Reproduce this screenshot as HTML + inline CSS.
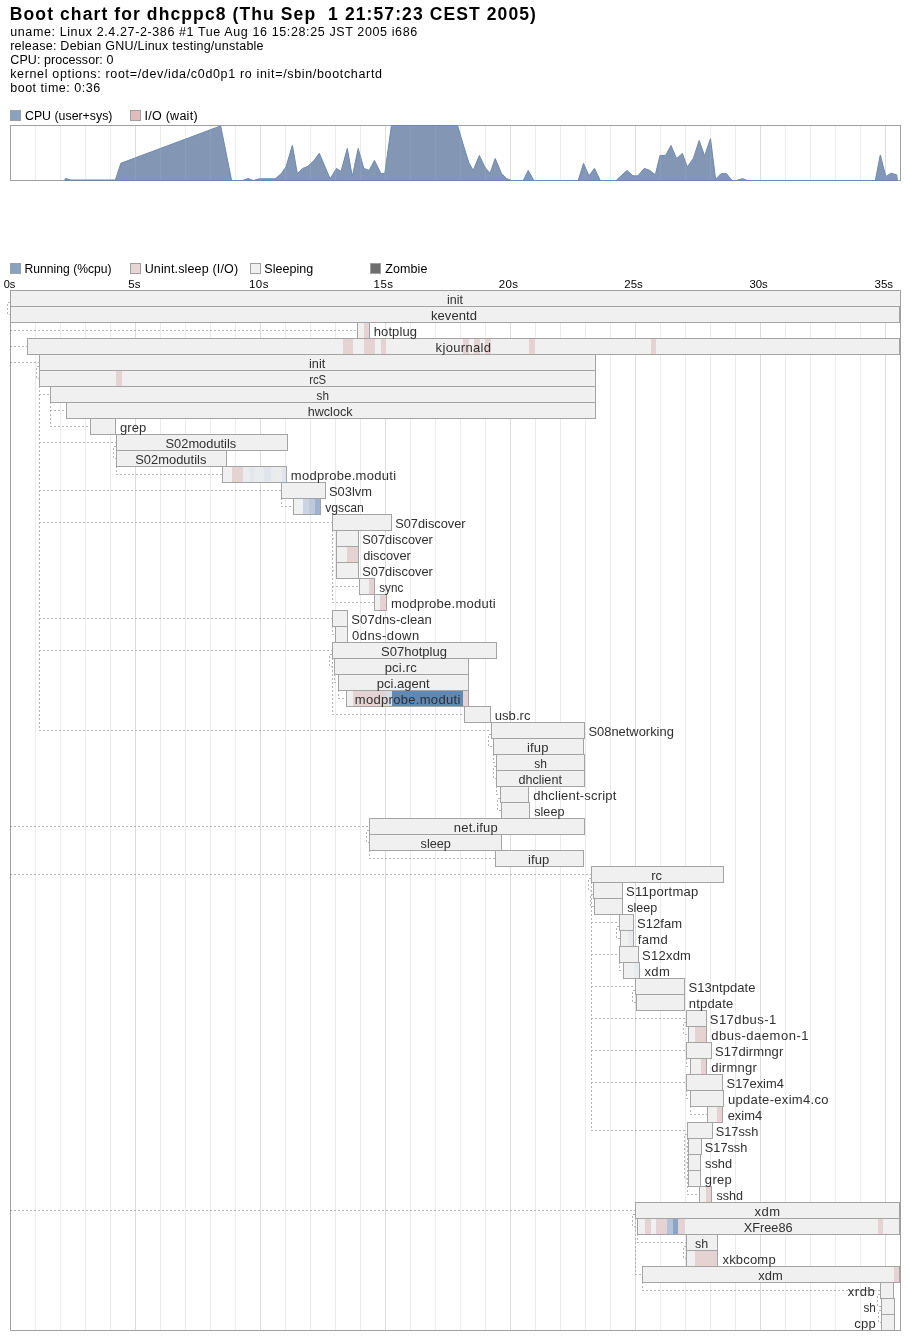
<!DOCTYPE html>
<html><head><meta charset="utf-8"><title>Boot chart</title>
<style>html,body{margin:0;padding:0;background:#fff;width:910px;height:1340px;overflow:hidden}svg{display:block;will-change:transform}text{shape-rendering:auto}</style>
</head><body>
<svg width="910" height="1340" viewBox="0 0 910 1340" font-family="'Liberation Sans', sans-serif" shape-rendering="crispEdges">
<text x="9.83" y="20" font-size="17.5" font-weight="bold" textLength="526.04" lengthAdjust="spacing">Boot chart for dhcppc8 (Thu Sep  1 21:57:23 CEST 2005)</text>
<text x="10.19" y="36" font-size="12.5" textLength="406.96" lengthAdjust="spacing">uname: Linux 2.4.27-2-386 #1 Tue Aug 16 15:28:25 JST 2005 i686</text>
<text x="10.17" y="50" font-size="12.5" textLength="253.39" lengthAdjust="spacing">release: Debian GNU/Linux testing/unstable</text>
<text x="10.37" y="64" font-size="12.5" textLength="103.02" lengthAdjust="spacing">CPU: processor: 0</text>
<text x="10.16" y="78" font-size="12.5" textLength="371.85" lengthAdjust="spacing">kernel options: root=/dev/ida/c0d0p1 ro init=/sbin/bootchartd</text>
<text x="10.19" y="92" font-size="12.5" textLength="90.05" lengthAdjust="spacing">boot time: 0:36</text>
<rect x="10.5" y="110.5" width="10" height="10" fill="#87a2c3" stroke="#a0a0a0"/>
<text x="24.97" y="120" font-size="12.5" textLength="87.49" lengthAdjust="spacingAndGlyphs">CPU (user+sys)</text>
<rect x="130.5" y="110.5" width="10" height="10" fill="#e0bcbc" stroke="#a0a0a0"/>
<text x="144.45" y="120" font-size="12.5" textLength="53.13" lengthAdjust="spacing">I/O (wait)</text>
<line x1="35.5" y1="125" x2="35.5" y2="180" stroke="#ebebeb"/>
<line x1="60.5" y1="125" x2="60.5" y2="180" stroke="#ebebeb"/>
<line x1="85.5" y1="125" x2="85.5" y2="180" stroke="#ebebeb"/>
<line x1="110.5" y1="125" x2="110.5" y2="180" stroke="#ebebeb"/>
<line x1="135.5" y1="125" x2="135.5" y2="180" stroke="#dcdcdc"/>
<line x1="160.5" y1="125" x2="160.5" y2="180" stroke="#ebebeb"/>
<line x1="185.5" y1="125" x2="185.5" y2="180" stroke="#ebebeb"/>
<line x1="210.5" y1="125" x2="210.5" y2="180" stroke="#ebebeb"/>
<line x1="235.5" y1="125" x2="235.5" y2="180" stroke="#ebebeb"/>
<line x1="260.5" y1="125" x2="260.5" y2="180" stroke="#dcdcdc"/>
<line x1="285.5" y1="125" x2="285.5" y2="180" stroke="#ebebeb"/>
<line x1="310.5" y1="125" x2="310.5" y2="180" stroke="#ebebeb"/>
<line x1="335.5" y1="125" x2="335.5" y2="180" stroke="#ebebeb"/>
<line x1="360.5" y1="125" x2="360.5" y2="180" stroke="#ebebeb"/>
<line x1="385.5" y1="125" x2="385.5" y2="180" stroke="#dcdcdc"/>
<line x1="410.5" y1="125" x2="410.5" y2="180" stroke="#ebebeb"/>
<line x1="435.5" y1="125" x2="435.5" y2="180" stroke="#ebebeb"/>
<line x1="460.5" y1="125" x2="460.5" y2="180" stroke="#ebebeb"/>
<line x1="485.5" y1="125" x2="485.5" y2="180" stroke="#ebebeb"/>
<line x1="510.5" y1="125" x2="510.5" y2="180" stroke="#dcdcdc"/>
<line x1="535.5" y1="125" x2="535.5" y2="180" stroke="#ebebeb"/>
<line x1="560.5" y1="125" x2="560.5" y2="180" stroke="#ebebeb"/>
<line x1="585.5" y1="125" x2="585.5" y2="180" stroke="#ebebeb"/>
<line x1="610.5" y1="125" x2="610.5" y2="180" stroke="#ebebeb"/>
<line x1="635.5" y1="125" x2="635.5" y2="180" stroke="#dcdcdc"/>
<line x1="660.5" y1="125" x2="660.5" y2="180" stroke="#ebebeb"/>
<line x1="685.5" y1="125" x2="685.5" y2="180" stroke="#ebebeb"/>
<line x1="710.5" y1="125" x2="710.5" y2="180" stroke="#ebebeb"/>
<line x1="735.5" y1="125" x2="735.5" y2="180" stroke="#ebebeb"/>
<line x1="760.5" y1="125" x2="760.5" y2="180" stroke="#dcdcdc"/>
<line x1="785.5" y1="125" x2="785.5" y2="180" stroke="#ebebeb"/>
<line x1="810.5" y1="125" x2="810.5" y2="180" stroke="#ebebeb"/>
<line x1="835.5" y1="125" x2="835.5" y2="180" stroke="#ebebeb"/>
<line x1="860.5" y1="125" x2="860.5" y2="180" stroke="#ebebeb"/>
<line x1="885.5" y1="125" x2="885.5" y2="180" stroke="#dcdcdc"/>
<rect x="10.5" y="125.5" width="890" height="55" fill="none" stroke="#a0a0a0"/>
<polygon points="64.8,180.50 65.3,178.48 70.8,180.00 115.4,180.00 120.9,163.24 220.7,125.90 231.6,180.50 242.5,180.50 248,178.58 253.4,180.50 259.3,178.78 275.2,178.78 281.1,173.84 286,166.88 292.4,145.28 297.3,173.44 302.8,168.39 307.8,166.37 313.7,160.82 319.3,153.25 330.1,178.78 336.5,168.39 341,171.42 347.3,148.51 352.3,176.46 358.2,148.51 363.8,168.39 369.1,170.41 374.4,160.42 380.9,173.44 384.8,173.44 391.4,125.50 457.6,125.50 463,143.87 468.9,162.84 473.2,170.41 479.4,155.47 484.7,166.88 490,173.44 495.2,158.50 501.5,173.44 506.5,178.48 511.4,180.50 523.3,180.50 528.2,170.41 533.8,180.50 578.2,180.50 583.5,163.44 589,175.86 594.4,168.39 600.3,180.50 616.1,180.50 627,170.41 633,175.86 637.9,175.86 644.2,168.39 649.8,170.41 655.3,174.85 660,155.47 665.6,155.47 671,145.48 676.5,158.50 682.4,153.45 687.3,166.88 693.3,158.50 699.2,140.54 704.6,155.88 710.5,138.52 715.6,179.39 721,173.64 726.5,173.64 732,180.50 736.4,180.50 742.5,178.68 747.4,180.50 875.3,180.50 880.3,154.97 885.8,176.46 891.3,173.13 896.8,174.95 897.3,180.50" fill="#8397b4" stroke="#6a88b2" stroke-width="1" stroke-linejoin="round" shape-rendering="geometricPrecision"/>
<line x1="35.5" y1="126" x2="35.5" y2="180" stroke="#ffffff" stroke-opacity="0.07"/>
<line x1="60.5" y1="126" x2="60.5" y2="180" stroke="#ffffff" stroke-opacity="0.07"/>
<line x1="85.5" y1="126" x2="85.5" y2="180" stroke="#ffffff" stroke-opacity="0.07"/>
<line x1="110.5" y1="126" x2="110.5" y2="180" stroke="#ffffff" stroke-opacity="0.07"/>
<line x1="135.5" y1="126" x2="135.5" y2="180" stroke="#ffffff" stroke-opacity="0.07"/>
<line x1="160.5" y1="126" x2="160.5" y2="180" stroke="#ffffff" stroke-opacity="0.07"/>
<line x1="185.5" y1="126" x2="185.5" y2="180" stroke="#ffffff" stroke-opacity="0.07"/>
<line x1="210.5" y1="126" x2="210.5" y2="180" stroke="#ffffff" stroke-opacity="0.07"/>
<line x1="235.5" y1="126" x2="235.5" y2="180" stroke="#ffffff" stroke-opacity="0.07"/>
<line x1="260.5" y1="126" x2="260.5" y2="180" stroke="#ffffff" stroke-opacity="0.07"/>
<line x1="285.5" y1="126" x2="285.5" y2="180" stroke="#ffffff" stroke-opacity="0.07"/>
<line x1="310.5" y1="126" x2="310.5" y2="180" stroke="#ffffff" stroke-opacity="0.07"/>
<line x1="335.5" y1="126" x2="335.5" y2="180" stroke="#ffffff" stroke-opacity="0.07"/>
<line x1="360.5" y1="126" x2="360.5" y2="180" stroke="#ffffff" stroke-opacity="0.07"/>
<line x1="385.5" y1="126" x2="385.5" y2="180" stroke="#ffffff" stroke-opacity="0.07"/>
<line x1="410.5" y1="126" x2="410.5" y2="180" stroke="#ffffff" stroke-opacity="0.07"/>
<line x1="435.5" y1="126" x2="435.5" y2="180" stroke="#ffffff" stroke-opacity="0.07"/>
<line x1="460.5" y1="126" x2="460.5" y2="180" stroke="#ffffff" stroke-opacity="0.07"/>
<line x1="485.5" y1="126" x2="485.5" y2="180" stroke="#ffffff" stroke-opacity="0.07"/>
<line x1="510.5" y1="126" x2="510.5" y2="180" stroke="#ffffff" stroke-opacity="0.07"/>
<line x1="535.5" y1="126" x2="535.5" y2="180" stroke="#ffffff" stroke-opacity="0.07"/>
<line x1="560.5" y1="126" x2="560.5" y2="180" stroke="#ffffff" stroke-opacity="0.07"/>
<line x1="585.5" y1="126" x2="585.5" y2="180" stroke="#ffffff" stroke-opacity="0.07"/>
<line x1="610.5" y1="126" x2="610.5" y2="180" stroke="#ffffff" stroke-opacity="0.07"/>
<line x1="635.5" y1="126" x2="635.5" y2="180" stroke="#ffffff" stroke-opacity="0.07"/>
<line x1="660.5" y1="126" x2="660.5" y2="180" stroke="#ffffff" stroke-opacity="0.07"/>
<line x1="685.5" y1="126" x2="685.5" y2="180" stroke="#ffffff" stroke-opacity="0.07"/>
<line x1="710.5" y1="126" x2="710.5" y2="180" stroke="#ffffff" stroke-opacity="0.07"/>
<line x1="735.5" y1="126" x2="735.5" y2="180" stroke="#ffffff" stroke-opacity="0.07"/>
<line x1="760.5" y1="126" x2="760.5" y2="180" stroke="#ffffff" stroke-opacity="0.07"/>
<line x1="785.5" y1="126" x2="785.5" y2="180" stroke="#ffffff" stroke-opacity="0.07"/>
<line x1="810.5" y1="126" x2="810.5" y2="180" stroke="#ffffff" stroke-opacity="0.07"/>
<line x1="835.5" y1="126" x2="835.5" y2="180" stroke="#ffffff" stroke-opacity="0.07"/>
<line x1="860.5" y1="126" x2="860.5" y2="180" stroke="#ffffff" stroke-opacity="0.07"/>
<line x1="885.5" y1="126" x2="885.5" y2="180" stroke="#ffffff" stroke-opacity="0.07"/>
<rect x="10.5" y="263.5" width="10" height="10" fill="#87a2c3" stroke="#a0a0a0"/>
<text x="24.60" y="273" font-size="12.5" textLength="87.05" lengthAdjust="spacingAndGlyphs">Running (%cpu)</text>
<rect x="130.5" y="263.5" width="10" height="10" fill="#e8d6d6" stroke="#a0a0a0"/>
<text x="144.64" y="273" font-size="12.5" textLength="93.44" lengthAdjust="spacing">Unint.sleep (I/O)</text>
<rect x="250.5" y="263.5" width="10" height="10" fill="#f0f0f0" stroke="#a0a0a0"/>
<text x="264.33" y="273" font-size="12.5" textLength="48.77" lengthAdjust="spacing">Sleeping</text>
<rect x="370.5" y="263.5" width="10" height="10" fill="#6e6e6e" stroke="#a0a0a0"/>
<text x="385.30" y="273" font-size="12.5" textLength="42.05" lengthAdjust="spacing">Zombie</text>
<text x="3.67" y="288" font-size="11.5" textLength="11.63" lengthAdjust="spacingAndGlyphs">0s</text>
<text x="128.24" y="288" font-size="11.5" textLength="12.18" lengthAdjust="spacing">5s</text>
<text x="248.92" y="288" font-size="11.5" textLength="19.59" lengthAdjust="spacing">10s</text>
<text x="373.42" y="288" font-size="11.5" textLength="19.69" lengthAdjust="spacing">15s</text>
<text x="498.72" y="288" font-size="11.5" textLength="19.39" lengthAdjust="spacing">20s</text>
<text x="624.32" y="288" font-size="11.5" textLength="18.49" lengthAdjust="spacingAndGlyphs">25s</text>
<text x="749.47" y="288" font-size="11.5" textLength="18.34" lengthAdjust="spacingAndGlyphs">30s</text>
<text x="874.46" y="288" font-size="11.5" textLength="18.65" lengthAdjust="spacing">35s</text>
<line x1="35.5" y1="290" x2="35.5" y2="1330" stroke="#ebebeb"/>
<line x1="60.5" y1="290" x2="60.5" y2="1330" stroke="#ebebeb"/>
<line x1="85.5" y1="290" x2="85.5" y2="1330" stroke="#ebebeb"/>
<line x1="110.5" y1="290" x2="110.5" y2="1330" stroke="#ebebeb"/>
<line x1="135.5" y1="290" x2="135.5" y2="1330" stroke="#dcdcdc"/>
<line x1="160.5" y1="290" x2="160.5" y2="1330" stroke="#ebebeb"/>
<line x1="185.5" y1="290" x2="185.5" y2="1330" stroke="#ebebeb"/>
<line x1="210.5" y1="290" x2="210.5" y2="1330" stroke="#ebebeb"/>
<line x1="235.5" y1="290" x2="235.5" y2="1330" stroke="#ebebeb"/>
<line x1="260.5" y1="290" x2="260.5" y2="1330" stroke="#dcdcdc"/>
<line x1="285.5" y1="290" x2="285.5" y2="1330" stroke="#ebebeb"/>
<line x1="310.5" y1="290" x2="310.5" y2="1330" stroke="#ebebeb"/>
<line x1="335.5" y1="290" x2="335.5" y2="1330" stroke="#ebebeb"/>
<line x1="360.5" y1="290" x2="360.5" y2="1330" stroke="#ebebeb"/>
<line x1="385.5" y1="290" x2="385.5" y2="1330" stroke="#dcdcdc"/>
<line x1="410.5" y1="290" x2="410.5" y2="1330" stroke="#ebebeb"/>
<line x1="435.5" y1="290" x2="435.5" y2="1330" stroke="#ebebeb"/>
<line x1="460.5" y1="290" x2="460.5" y2="1330" stroke="#ebebeb"/>
<line x1="485.5" y1="290" x2="485.5" y2="1330" stroke="#ebebeb"/>
<line x1="510.5" y1="290" x2="510.5" y2="1330" stroke="#dcdcdc"/>
<line x1="535.5" y1="290" x2="535.5" y2="1330" stroke="#ebebeb"/>
<line x1="560.5" y1="290" x2="560.5" y2="1330" stroke="#ebebeb"/>
<line x1="585.5" y1="290" x2="585.5" y2="1330" stroke="#ebebeb"/>
<line x1="610.5" y1="290" x2="610.5" y2="1330" stroke="#ebebeb"/>
<line x1="635.5" y1="290" x2="635.5" y2="1330" stroke="#dcdcdc"/>
<line x1="660.5" y1="290" x2="660.5" y2="1330" stroke="#ebebeb"/>
<line x1="685.5" y1="290" x2="685.5" y2="1330" stroke="#ebebeb"/>
<line x1="710.5" y1="290" x2="710.5" y2="1330" stroke="#ebebeb"/>
<line x1="735.5" y1="290" x2="735.5" y2="1330" stroke="#ebebeb"/>
<line x1="760.5" y1="290" x2="760.5" y2="1330" stroke="#dcdcdc"/>
<line x1="785.5" y1="290" x2="785.5" y2="1330" stroke="#ebebeb"/>
<line x1="810.5" y1="290" x2="810.5" y2="1330" stroke="#ebebeb"/>
<line x1="835.5" y1="290" x2="835.5" y2="1330" stroke="#ebebeb"/>
<line x1="860.5" y1="290" x2="860.5" y2="1330" stroke="#ebebeb"/>
<line x1="885.5" y1="290" x2="885.5" y2="1330" stroke="#dcdcdc"/>
<path d="M10,302.5H7.5V314.5H10M10.5,306V330.5H357M10.5,306V346.5H27M10.5,306V362.5H39M39,366.5H36.5V378.5H39M39.5,386V394.5H50M50.5,402V410.5H66M50.5,402V426.5H90M39.5,386V442.5H116M116,446.5H113.5V458.5H116M116.5,466V474.5H222M39.5,386V490.5H281M281.5,498V506.5H293M39.5,386V522.5H332M332.5,530V538.5H336M332.5,530V554.5H336M332.5,530V570.5H336M332.5,530V586.5H359M332.5,530V602.5H374M39.5,386V618.5H332M332.5,626V634.5H335M39.5,386V650.5H332M332,654.5H329.5V666.5H334M334.5,674V682.5H338M338.5,690V698.5H346M332.5,658V714.5H464M39.5,386V730.5H491M491,734.5H488.5V746.5H493M493.5,754V762.5H496M496,766.5H493.5V778.5H496M496.5,786V794.5H500M500,798.5H497.5V810.5H501M10.5,306V826.5H369M369,830.5H366.5V842.5H369M369.5,834V858.5H495M10.5,306V874.5H591M591,878.5H588.5V890.5H593M593,894.5H590.5V906.5H594M591.5,882V922.5H619M619,926.5H616.5V938.5H620M591.5,882V954.5H619M619.5,962V970.5H623M591.5,882V986.5H635M635,990.5H632.5V1002.5H636M591.5,882V1018.5H686M686,1022.5H683.5V1034.5H688M591.5,882V1050.5H686M686.5,1058V1066.5H690M591.5,882V1082.5H686M686.5,1090V1098.5H690M690.5,1106V1114.5H707M591.5,882V1130.5H687M687,1134.5H684.5V1146.5H688M687,1134.5H684.5V1162.5H688M687,1134.5H684.5V1178.5H688M687.5,1138V1194.5H699M10.5,306V1210.5H635M635,1214.5H632.5V1226.5H637M637.5,1234V1242.5H686M686,1246.5H683.5V1258.5H686M635.5,1218V1274.5H642M642.5,1282V1290.5H880M880,1294.5H877.5V1306.5H881M881,1310.5H878.5V1322.5H881" fill="none" stroke="#b4b4b4" stroke-dasharray="2,2"/>
<rect x="10" y="290" width="890" height="16" fill="#f0f0f0"/>
<rect x="10.5" y="290.5" width="890" height="16" fill="none" stroke="#a4a4a4"/>
<rect x="10" y="306" width="889" height="16" fill="#f0f0f0"/>
<rect x="10.5" y="306.5" width="889" height="16" fill="none" stroke="#a4a4a4"/>
<rect x="357" y="322" width="12" height="16" fill="#f0f0f0"/>
<rect x="364" y="322" width="5" height="16" fill="#e5d3d3"/>
<rect x="357.5" y="322.5" width="12" height="16" fill="none" stroke="#a4a4a4"/>
<rect x="27" y="338" width="872" height="16" fill="#f0f0f0"/>
<rect x="343" y="338" width="10" height="16" fill="#e5d3d3"/>
<rect x="364" y="338" width="11" height="16" fill="#e5d3d3"/>
<rect x="381" y="338" width="5" height="16" fill="#e5d3d3"/>
<rect x="463" y="338" width="6" height="16" fill="#e5d3d3"/>
<rect x="474" y="338" width="6" height="16" fill="#e5d3d3"/>
<rect x="485" y="338" width="6" height="16" fill="#e5d3d3"/>
<rect x="529" y="338" width="6" height="16" fill="#e5d3d3"/>
<rect x="651" y="338" width="5" height="16" fill="#e5d3d3"/>
<rect x="27.5" y="338.5" width="872" height="16" fill="none" stroke="#a4a4a4"/>
<rect x="39" y="354" width="556" height="16" fill="#f0f0f0"/>
<rect x="39.5" y="354.5" width="556" height="16" fill="none" stroke="#a4a4a4"/>
<rect x="39" y="370" width="556" height="16" fill="#f0f0f0"/>
<rect x="116" y="370" width="6" height="16" fill="#e5d3d3"/>
<rect x="39.5" y="370.5" width="556" height="16" fill="none" stroke="#a4a4a4"/>
<rect x="50" y="386" width="545" height="16" fill="#f0f0f0"/>
<rect x="50.5" y="386.5" width="545" height="16" fill="none" stroke="#a4a4a4"/>
<rect x="66" y="402" width="529" height="16" fill="#f0f0f0"/>
<rect x="66.5" y="402.5" width="529" height="16" fill="none" stroke="#a4a4a4"/>
<rect x="90" y="418" width="25" height="16" fill="#f0f0f0"/>
<rect x="90.5" y="418.5" width="25" height="16" fill="none" stroke="#a4a4a4"/>
<rect x="116" y="434" width="171" height="16" fill="#f0f0f0"/>
<rect x="116.5" y="434.5" width="171" height="16" fill="none" stroke="#a4a4a4"/>
<rect x="116" y="450" width="110" height="16" fill="#f0f0f0"/>
<rect x="116.5" y="450.5" width="110" height="16" fill="none" stroke="#a4a4a4"/>
<rect x="222" y="466" width="64" height="16" fill="#f0f0f0"/>
<rect x="232" y="466" width="11" height="16" fill="#e5d3d3"/>
<rect x="243" y="466" width="7" height="16" fill="#ebecee"/>
<rect x="250" y="466" width="4" height="16" fill="#e2e7ed"/>
<rect x="254" y="466" width="10" height="16" fill="#e9ecef"/>
<rect x="264" y="466" width="7" height="16" fill="#e0e6ec"/>
<rect x="271" y="466" width="6" height="16" fill="#e9ecef"/>
<rect x="277" y="466" width="5" height="16" fill="#ececec"/>
<rect x="282" y="466" width="4" height="16" fill="#dfe5ec"/>
<rect x="222.5" y="466.5" width="64" height="16" fill="none" stroke="#a4a4a4"/>
<rect x="281" y="482" width="44" height="16" fill="#f0f0f0"/>
<rect x="281.5" y="482.5" width="44" height="16" fill="none" stroke="#a4a4a4"/>
<rect x="293" y="498" width="27" height="16" fill="#f0f0f0"/>
<rect x="303" y="498" width="6" height="16" fill="#c9d5e3"/>
<rect x="309" y="498" width="6" height="16" fill="#bccadb"/>
<rect x="315" y="498" width="5" height="16" fill="#9fb3cc"/>
<rect x="293.5" y="498.5" width="27" height="16" fill="none" stroke="#a4a4a4"/>
<rect x="332" y="514" width="59" height="16" fill="#f0f0f0"/>
<rect x="332.5" y="514.5" width="59" height="16" fill="none" stroke="#a4a4a4"/>
<rect x="336" y="530" width="22" height="16" fill="#f0f0f0"/>
<rect x="336.5" y="530.5" width="22" height="16" fill="none" stroke="#a4a4a4"/>
<rect x="336" y="546" width="22" height="16" fill="#f0f0f0"/>
<rect x="347" y="546" width="11" height="16" fill="#e5d3d3"/>
<rect x="336.5" y="546.5" width="22" height="16" fill="none" stroke="#a4a4a4"/>
<rect x="336" y="562" width="22" height="16" fill="#f0f0f0"/>
<rect x="336.5" y="562.5" width="22" height="16" fill="none" stroke="#a4a4a4"/>
<rect x="359" y="578" width="15" height="16" fill="#f0f0f0"/>
<rect x="369" y="578" width="5" height="16" fill="#e5d3d3"/>
<rect x="359.5" y="578.5" width="15" height="16" fill="none" stroke="#a4a4a4"/>
<rect x="374" y="594" width="12" height="16" fill="#f0f0f0"/>
<rect x="380" y="594" width="6" height="16" fill="#e5d3d3"/>
<rect x="374.5" y="594.5" width="12" height="16" fill="none" stroke="#a4a4a4"/>
<rect x="332" y="610" width="15" height="16" fill="#f0f0f0"/>
<rect x="332.5" y="610.5" width="15" height="16" fill="none" stroke="#a4a4a4"/>
<rect x="335" y="626" width="12" height="16" fill="#f0f0f0"/>
<rect x="335.5" y="626.5" width="12" height="16" fill="none" stroke="#a4a4a4"/>
<rect x="332" y="642" width="164" height="16" fill="#f0f0f0"/>
<rect x="332.5" y="642.5" width="164" height="16" fill="none" stroke="#a4a4a4"/>
<rect x="334" y="658" width="134" height="16" fill="#f0f0f0"/>
<rect x="334.5" y="658.5" width="134" height="16" fill="none" stroke="#a4a4a4"/>
<rect x="338" y="674" width="130" height="16" fill="#f0f0f0"/>
<rect x="338.5" y="674.5" width="130" height="16" fill="none" stroke="#a4a4a4"/>
<rect x="346" y="690" width="122" height="16" fill="#f0f0f0"/>
<rect x="353" y="690" width="33" height="16" fill="#e5d3d3"/>
<rect x="386" y="690" width="6" height="16" fill="#d4dde8"/>
<rect x="392" y="690" width="71" height="16" fill="#6088b5"/>
<rect x="463" y="690" width="5" height="16" fill="#e5d3d3"/>
<rect x="346.5" y="690.5" width="122" height="16" fill="none" stroke="#a4a4a4"/>
<rect x="464" y="706" width="26" height="16" fill="#f0f0f0"/>
<rect x="464.5" y="706.5" width="26" height="16" fill="none" stroke="#a4a4a4"/>
<rect x="491" y="722" width="93" height="16" fill="#f0f0f0"/>
<rect x="491.5" y="722.5" width="93" height="16" fill="none" stroke="#a4a4a4"/>
<rect x="493" y="738" width="90" height="16" fill="#f0f0f0"/>
<rect x="493.5" y="738.5" width="90" height="16" fill="none" stroke="#a4a4a4"/>
<rect x="496" y="754" width="88" height="16" fill="#f0f0f0"/>
<rect x="496.5" y="754.5" width="88" height="16" fill="none" stroke="#a4a4a4"/>
<rect x="496" y="770" width="88" height="16" fill="#f0f0f0"/>
<rect x="496.5" y="770.5" width="88" height="16" fill="none" stroke="#a4a4a4"/>
<rect x="500" y="786" width="28" height="16" fill="#f0f0f0"/>
<rect x="500.5" y="786.5" width="28" height="16" fill="none" stroke="#a4a4a4"/>
<rect x="501" y="802" width="28" height="16" fill="#f0f0f0"/>
<rect x="501.5" y="802.5" width="28" height="16" fill="none" stroke="#a4a4a4"/>
<rect x="369" y="818" width="215" height="16" fill="#f0f0f0"/>
<rect x="369.5" y="818.5" width="215" height="16" fill="none" stroke="#a4a4a4"/>
<rect x="369" y="834" width="132" height="16" fill="#f0f0f0"/>
<rect x="369.5" y="834.5" width="132" height="16" fill="none" stroke="#a4a4a4"/>
<rect x="495" y="850" width="88" height="16" fill="#f0f0f0"/>
<rect x="495.5" y="850.5" width="88" height="16" fill="none" stroke="#a4a4a4"/>
<rect x="591" y="866" width="132" height="16" fill="#f0f0f0"/>
<rect x="591.5" y="866.5" width="132" height="16" fill="none" stroke="#a4a4a4"/>
<rect x="593" y="882" width="29" height="16" fill="#f0f0f0"/>
<rect x="593.5" y="882.5" width="29" height="16" fill="none" stroke="#a4a4a4"/>
<rect x="594" y="898" width="28" height="16" fill="#f0f0f0"/>
<rect x="594.5" y="898.5" width="28" height="16" fill="none" stroke="#a4a4a4"/>
<rect x="619" y="914" width="14" height="16" fill="#f0f0f0"/>
<rect x="619.5" y="914.5" width="14" height="16" fill="none" stroke="#a4a4a4"/>
<rect x="620" y="930" width="13" height="16" fill="#f0f0f0"/>
<rect x="628" y="930" width="5" height="16" fill="#e8ebee"/>
<rect x="620.5" y="930.5" width="13" height="16" fill="none" stroke="#a4a4a4"/>
<rect x="619" y="946" width="19" height="16" fill="#f0f0f0"/>
<rect x="619.5" y="946.5" width="19" height="16" fill="none" stroke="#a4a4a4"/>
<rect x="623" y="962" width="16" height="16" fill="#f0f0f0"/>
<rect x="634" y="962" width="5" height="16" fill="#e8ebee"/>
<rect x="623.5" y="962.5" width="16" height="16" fill="none" stroke="#a4a4a4"/>
<rect x="635" y="978" width="49" height="16" fill="#f0f0f0"/>
<rect x="635.5" y="978.5" width="49" height="16" fill="none" stroke="#a4a4a4"/>
<rect x="636" y="994" width="48" height="16" fill="#f0f0f0"/>
<rect x="636.5" y="994.5" width="48" height="16" fill="none" stroke="#a4a4a4"/>
<rect x="686" y="1010" width="20" height="16" fill="#f0f0f0"/>
<rect x="686.5" y="1010.5" width="20" height="16" fill="none" stroke="#a4a4a4"/>
<rect x="688" y="1026" width="18" height="16" fill="#f0f0f0"/>
<rect x="695" y="1026" width="11" height="16" fill="#e5d3d3"/>
<rect x="688.5" y="1026.5" width="18" height="16" fill="none" stroke="#a4a4a4"/>
<rect x="686" y="1042" width="25" height="16" fill="#f0f0f0"/>
<rect x="686.5" y="1042.5" width="25" height="16" fill="none" stroke="#a4a4a4"/>
<rect x="690" y="1058" width="16" height="16" fill="#f0f0f0"/>
<rect x="701" y="1058" width="5" height="16" fill="#e5d3d3"/>
<rect x="690.5" y="1058.5" width="16" height="16" fill="none" stroke="#a4a4a4"/>
<rect x="686" y="1074" width="36" height="16" fill="#f0f0f0"/>
<rect x="686.5" y="1074.5" width="36" height="16" fill="none" stroke="#a4a4a4"/>
<rect x="690" y="1090" width="33" height="16" fill="#f0f0f0"/>
<rect x="690.5" y="1090.5" width="33" height="16" fill="none" stroke="#a4a4a4"/>
<rect x="707" y="1106" width="15" height="16" fill="#f0f0f0"/>
<rect x="717" y="1106" width="5" height="16" fill="#e5d3d3"/>
<rect x="707.5" y="1106.5" width="15" height="16" fill="none" stroke="#a4a4a4"/>
<rect x="687" y="1122" width="25" height="16" fill="#f0f0f0"/>
<rect x="687.5" y="1122.5" width="25" height="16" fill="none" stroke="#a4a4a4"/>
<rect x="688" y="1138" width="13" height="16" fill="#f0f0f0"/>
<rect x="688.5" y="1138.5" width="13" height="16" fill="none" stroke="#a4a4a4"/>
<rect x="688" y="1154" width="12" height="16" fill="#f0f0f0"/>
<rect x="688.5" y="1154.5" width="12" height="16" fill="none" stroke="#a4a4a4"/>
<rect x="688" y="1170" width="12" height="16" fill="#f0f0f0"/>
<rect x="688.5" y="1170.5" width="12" height="16" fill="none" stroke="#a4a4a4"/>
<rect x="699" y="1186" width="12" height="16" fill="#f0f0f0"/>
<rect x="706" y="1186" width="5" height="16" fill="#e5d3d3"/>
<rect x="699.5" y="1186.5" width="12" height="16" fill="none" stroke="#a4a4a4"/>
<rect x="635" y="1202" width="264" height="16" fill="#f0f0f0"/>
<rect x="635.5" y="1202.5" width="264" height="16" fill="none" stroke="#a4a4a4"/>
<rect x="637" y="1218" width="262" height="16" fill="#f0f0f0"/>
<rect x="645" y="1218" width="6" height="16" fill="#e5d3d3"/>
<rect x="656" y="1218" width="11" height="16" fill="#e5d3d3"/>
<rect x="667" y="1218" width="6" height="16" fill="#b3c4da"/>
<rect x="673" y="1218" width="5" height="16" fill="#8aa6c6"/>
<rect x="678" y="1218" width="7" height="16" fill="#e5d3d3"/>
<rect x="878" y="1218" width="5" height="16" fill="#e5d3d3"/>
<rect x="637.5" y="1218.5" width="262" height="16" fill="none" stroke="#a4a4a4"/>
<rect x="686" y="1234" width="31" height="16" fill="#f0f0f0"/>
<rect x="686.5" y="1234.5" width="31" height="16" fill="none" stroke="#a4a4a4"/>
<rect x="686" y="1250" width="31" height="16" fill="#f0f0f0"/>
<rect x="695" y="1250" width="22" height="16" fill="#e5d3d3"/>
<rect x="686.5" y="1250.5" width="31" height="16" fill="none" stroke="#a4a4a4"/>
<rect x="642" y="1266" width="257" height="16" fill="#f0f0f0"/>
<rect x="894" y="1266" width="5" height="16" fill="#e5d3d3"/>
<rect x="642.5" y="1266.5" width="257" height="16" fill="none" stroke="#a4a4a4"/>
<rect x="880" y="1282" width="13" height="16" fill="#f0f0f0"/>
<rect x="880.5" y="1282.5" width="13" height="16" fill="none" stroke="#a4a4a4"/>
<rect x="881" y="1298" width="13" height="16" fill="#f0f0f0"/>
<rect x="881.5" y="1298.5" width="13" height="16" fill="none" stroke="#a4a4a4"/>
<rect x="881" y="1314" width="13" height="16" fill="#f0f0f0"/>
<rect x="881.5" y="1314.5" width="13" height="16" fill="none" stroke="#a4a4a4"/>
<text x="447.07" y="304" font-size="13" fill="#303030" textLength="15.92" lengthAdjust="spacingAndGlyphs">init</text>
<text x="431.02" y="320" font-size="13" fill="#303030" textLength="45.91" lengthAdjust="spacing">keventd</text>
<text x="373.70" y="336" font-size="13" fill="#303030" textLength="43.34" lengthAdjust="spacing">hotplug</text>
<text x="435.62" y="352" font-size="13" fill="#303030" textLength="55.41" lengthAdjust="spacing">kjournald</text>
<text x="309.05" y="368" font-size="13" fill="#303030" textLength="16.24" lengthAdjust="spacingAndGlyphs">init</text>
<text x="309.14" y="384" font-size="13" fill="#303030" textLength="17.08" lengthAdjust="spacingAndGlyphs">rcS</text>
<text x="316.57" y="400" font-size="13" fill="#303030" textLength="12.39" lengthAdjust="spacingAndGlyphs">sh</text>
<text x="307.73" y="416" font-size="13" fill="#303030" textLength="44.75" lengthAdjust="spacingAndGlyphs">hwclock</text>
<text x="120.05" y="432" font-size="13" fill="#303030" textLength="26.29" lengthAdjust="spacing">grep</text>
<text x="165.52" y="448" font-size="13" fill="#303030" textLength="70.75" lengthAdjust="spacingAndGlyphs">S02modutils</text>
<text x="135.21" y="464" font-size="13" fill="#303030" textLength="71.15" lengthAdjust="spacingAndGlyphs">S02modutils</text>
<text x="290.84" y="480" font-size="13" fill="#303030" textLength="105.24" lengthAdjust="spacing">modprobe.moduti</text>
<text x="329.01" y="496" font-size="13" fill="#303030" textLength="43.04" lengthAdjust="spacingAndGlyphs">S03lvm</text>
<text x="325.26" y="512" font-size="13" fill="#303030" textLength="38.63" lengthAdjust="spacingAndGlyphs">vgscan</text>
<text x="395.22" y="528" font-size="13" fill="#303030" textLength="70.39" lengthAdjust="spacingAndGlyphs">S07discover</text>
<text x="362.32" y="544" font-size="13" fill="#303030" textLength="70.49" lengthAdjust="spacingAndGlyphs">S07discover</text>
<text x="363.16" y="560" font-size="13" fill="#303030" textLength="47.65" lengthAdjust="spacingAndGlyphs">discover</text>
<text x="362.32" y="576" font-size="13" fill="#303030" textLength="70.49" lengthAdjust="spacingAndGlyphs">S07discover</text>
<text x="379.27" y="592" font-size="13" fill="#303030" textLength="24.03" lengthAdjust="spacingAndGlyphs">sync</text>
<text x="390.94" y="608" font-size="13" fill="#303030" textLength="104.74" lengthAdjust="spacing">modprobe.moduti</text>
<text x="351.31" y="624" font-size="13" fill="#303030" textLength="80.43" lengthAdjust="spacing">S07dns-clean</text>
<text x="352.09" y="640" font-size="13" fill="#303030" textLength="67.05" lengthAdjust="spacing">0dns-down</text>
<text x="381.11" y="656" font-size="13" fill="#303030" textLength="65.83" lengthAdjust="spacing">S07hotplug</text>
<text x="384.66" y="672" font-size="13" fill="#303030" textLength="32.18" lengthAdjust="spacing">pci.rc</text>
<text x="376.86" y="688" font-size="13" fill="#303030" textLength="52.83" lengthAdjust="spacing">pci.agent</text>
<text x="354.84" y="704" font-size="13" fill="#303030" textLength="105.44" lengthAdjust="spacing">modprobe.moduti</text>
<text x="494.66" y="720" font-size="13" fill="#303030" textLength="35.89" lengthAdjust="spacing">usb.rc</text>
<text x="588.41" y="736" font-size="13" fill="#303030" textLength="85.42" lengthAdjust="spacingAndGlyphs">S08networking</text>
<text x="526.93" y="752" font-size="13" fill="#303030" textLength="21.52" lengthAdjust="spacing">ifup</text>
<text x="534.26" y="768" font-size="13" fill="#303030" textLength="12.72" lengthAdjust="spacingAndGlyphs">sh</text>
<text x="518.47" y="784" font-size="13" fill="#303030" textLength="43.42" lengthAdjust="spacingAndGlyphs">dhclient</text>
<text x="533.35" y="800" font-size="13" fill="#303030" textLength="82.94" lengthAdjust="spacing">dhclient-script</text>
<text x="534.25" y="816" font-size="13" fill="#303030" textLength="30.18" lengthAdjust="spacingAndGlyphs">sleep</text>
<text x="453.84" y="832" font-size="13" fill="#303030" textLength="43.81" lengthAdjust="spacing">net.ifup</text>
<text x="420.55" y="848" font-size="13" fill="#303030" textLength="30.39" lengthAdjust="spacingAndGlyphs">sleep</text>
<text x="527.93" y="864" font-size="13" fill="#303030" textLength="21.32" lengthAdjust="spacing">ifup</text>
<text x="651.24" y="880" font-size="13" fill="#303030" textLength="10.80" lengthAdjust="spacingAndGlyphs">rc</text>
<text x="626.11" y="896" font-size="13" fill="#303030" textLength="72.14" lengthAdjust="spacing">S11portmap</text>
<text x="627.25" y="912" font-size="13" fill="#303030" textLength="29.98" lengthAdjust="spacingAndGlyphs">sleep</text>
<text x="637.11" y="928" font-size="13" fill="#303030" textLength="44.95" lengthAdjust="spacing">S12fam</text>
<text x="637.72" y="944" font-size="13" fill="#303030" textLength="30.02" lengthAdjust="spacing">famd</text>
<text x="642.11" y="960" font-size="13" fill="#303030" textLength="48.85" lengthAdjust="spacing">S12xdm</text>
<text x="644.55" y="976" font-size="13" fill="#303030" textLength="25.20" lengthAdjust="spacing">xdm</text>
<text x="688.41" y="992" font-size="13" fill="#303030" textLength="66.97" lengthAdjust="spacing">S13ntpdate</text>
<text x="688.84" y="1008" font-size="13" fill="#303030" textLength="44.34" lengthAdjust="spacing">ntpdate</text>
<text x="709.81" y="1024" font-size="13" fill="#303030" textLength="66.43" lengthAdjust="spacing">S17dbus-1</text>
<text x="711.15" y="1040" font-size="13" fill="#303030" textLength="97.38" lengthAdjust="spacing">dbus-daemon-1</text>
<text x="714.91" y="1056" font-size="13" fill="#303030" textLength="68.41" lengthAdjust="spacing">S17dirmngr</text>
<text x="711.15" y="1072" font-size="13" fill="#303030" textLength="45.66" lengthAdjust="spacing">dirmngr</text>
<text x="726.62" y="1088" font-size="13" fill="#303030" textLength="57.26" lengthAdjust="spacingAndGlyphs">S17exim4</text>
<text x="727.96" y="1104" font-size="13" fill="#303030" textLength="100.59" lengthAdjust="spacing">update-exim4.co</text>
<text x="727.65" y="1120" font-size="13" fill="#303030" textLength="34.53" lengthAdjust="spacingAndGlyphs">exim4</text>
<text x="715.72" y="1136" font-size="13" fill="#303030" textLength="42.51" lengthAdjust="spacingAndGlyphs">S17ssh</text>
<text x="704.82" y="1152" font-size="13" fill="#303030" textLength="42.51" lengthAdjust="spacingAndGlyphs">S17ssh</text>
<text x="705.04" y="1168" font-size="13" fill="#303030" textLength="27.08" lengthAdjust="spacingAndGlyphs">sshd</text>
<text x="704.85" y="1184" font-size="13" fill="#303030" textLength="26.99" lengthAdjust="spacing">grep</text>
<text x="716.45" y="1200" font-size="13" fill="#303030" textLength="26.56" lengthAdjust="spacingAndGlyphs">sshd</text>
<text x="754.55" y="1216" font-size="13" fill="#303030" textLength="25.60" lengthAdjust="spacing">xdm</text>
<text x="743.81" y="1232" font-size="13" fill="#303030" textLength="48.74" lengthAdjust="spacingAndGlyphs">XFree86</text>
<text x="694.95" y="1248" font-size="13" fill="#303030" textLength="13.16" lengthAdjust="spacingAndGlyphs">sh</text>
<text x="722.45" y="1264" font-size="13" fill="#303030" textLength="53.19" lengthAdjust="spacing">xkbcomp</text>
<text x="758.35" y="1280" font-size="13" fill="#303030" textLength="24.40" lengthAdjust="spacingAndGlyphs">xdm</text>
<text x="847.85" y="1296" font-size="13" fill="#303030" textLength="26.79" lengthAdjust="spacing">xrdb</text>
<text x="863.47" y="1312" font-size="13" fill="#303030" textLength="12.39" lengthAdjust="spacingAndGlyphs">sh</text>
<text x="854.35" y="1328" font-size="13" fill="#303030" textLength="21.30" lengthAdjust="spacing">cpp</text>
<rect x="10.5" y="290.5" width="890" height="1040" fill="none" stroke="#a0a0a0"/>
</svg>
</body></html>
